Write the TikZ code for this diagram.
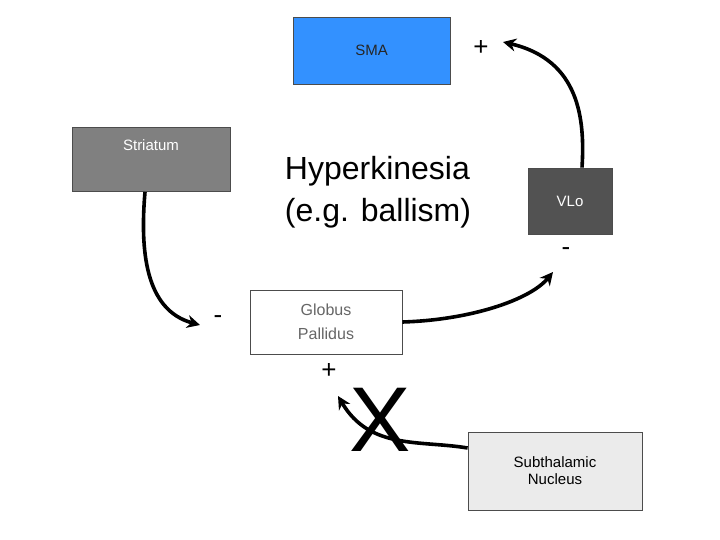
\documentclass[tikz,border=0pt]{standalone}
\usepackage{fontspec}
\setmainfont{Liberation Sans}
\usetikzlibrary{arrows.meta}
\begin{document}
\begin{tikzpicture}[x=1pt,y=-1pt,
  box/.style={draw=black!70,line width=0.8pt,minimum width=#1,inner sep=0pt,align=center,font=\fontsize{15}{17}\selectfont},
  arr/.style={line width=3.6pt,-{Stealth[length=13pt,width=13pt]}},
  sign/.style={font=\fontsize{26}{28}\selectfont}]
\useasboundingbox (0,0) rectangle (720,540);
\node[box=157pt,minimum height=67pt,fill={rgb,255:red,51;green,145;blue,255},text=black!85] (sma) at (371.5,50.5) {SMA};
\node[sign] (p1) at (481,48) {+};
\node[box=158pt,minimum height=64pt,fill=black!50,text=white,text depth=28pt] (str) at (151,159) {Striatum};
\node[align=left,font=\fontsize{32}{42}\selectfont] (hyp) at (378,192) {Hyperkinesia\\(e.g. ballism)};
\node[box=84pt,minimum height=66pt,fill=black!68,text=white] (vlo) at (570,201) {VLo};
\node[sign] (m1) at (566,252) {-};
\node[box=152pt,minimum height=64pt,fill=white,text=black!60,font=\fontsize{16}{24}\selectfont] (gp) at (326,322) {Globus\\Pallidus};
\node[sign] (m2) at (218,320) {-};
\node[sign] (p2) at (329,371) {+};
\node[box=174pt,minimum height=78pt,fill=black!8] (stn) at (555,471) {Subthalamic\\Nucleus};
\coordinate (a1) at (200,325);
\coordinate (a2) at (553,272);
\coordinate (a3) at (503,42);
\coordinate (a4) at (338,396);
\draw[arr] (145,192) .. controls (140,250) and (145,310) .. (a1);
\draw[arr] (gp.east) .. controls (470,320) and (530,300) .. (a2);
\draw[arr] (vlo.north -| 582,0) .. controls (585,120) and (580,60) .. (a3);
\draw[arr] (stn.west |- 0,448) .. controls (420,440) and (370,450) .. (a4);
\node[font=\fontsize{92}{92}\selectfont] (x) at (380,420) {X};
\end{tikzpicture}
\end{document}
